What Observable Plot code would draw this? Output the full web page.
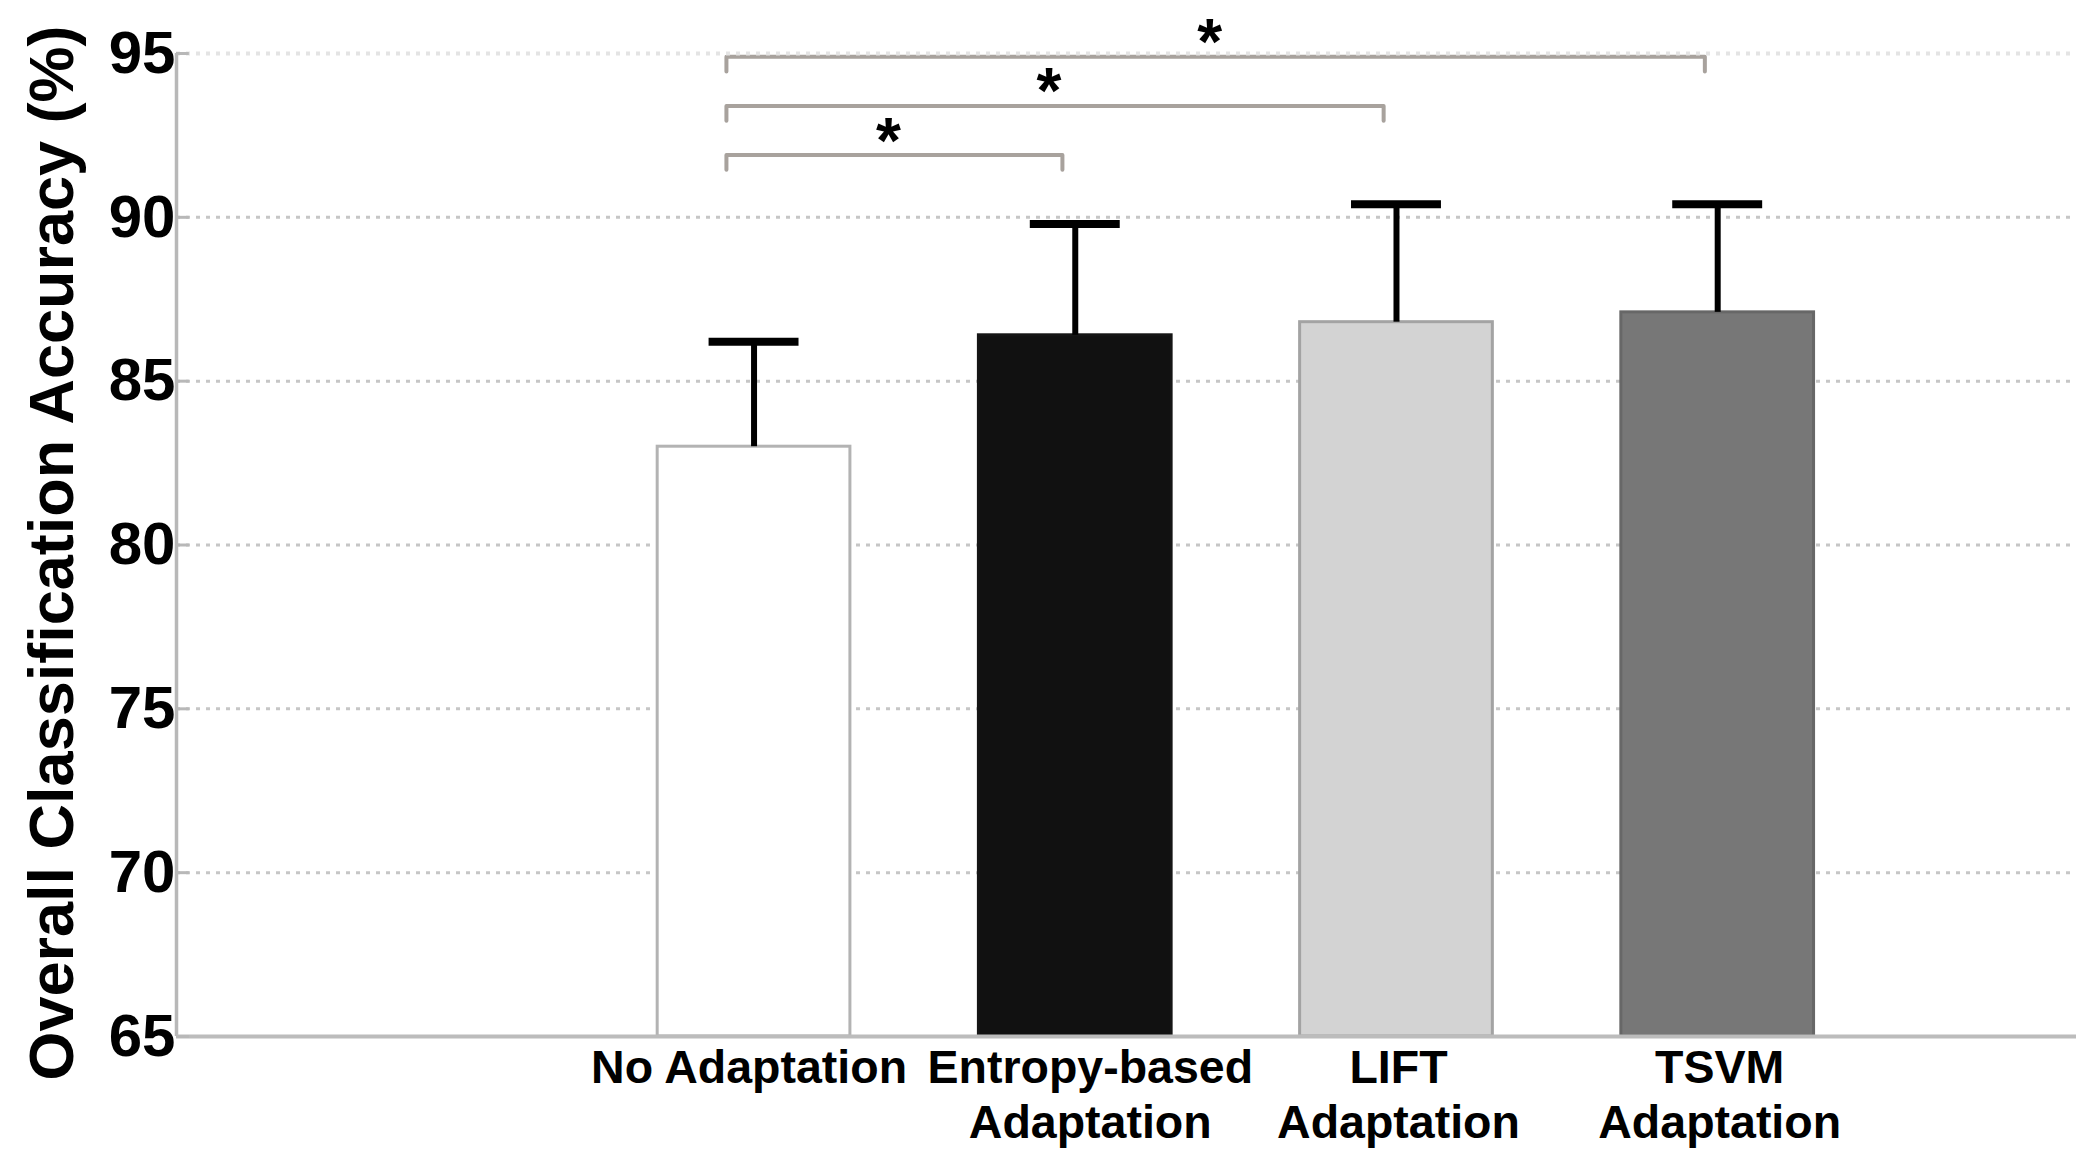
<!DOCTYPE html>
<html>
<head>
<meta charset="utf-8">
<script src="https://cdn.jsdelivr.net/npm/d3@7"></script>
<script src="https://cdn.jsdelivr.net/npm/@observablehq/plot@0.6"></script>
<style>
  html, body { margin: 0; padding: 0; background: #fff; }
</style>
</head>
<body>
<script>
// ---- data ----
const categories = ["No Adaptation", "Entropy-based\nAdaptation", "LIFT\nAdaptation", "TSVM\nAdaptation"];
const accuracy = [83.0, 86.4, 86.8, 87.1];
const stdev = [3.2, 3.4, 3.6, 3.3];
const yTicks = [65, 70, 75, 80, 85, 90, 95];
const sigFrom = [1, 1, 1];
const sigTo = [2, 3, 4];
const sigLevel = [91.9, 93.4, 94.9];
const sigLabel = ["*", "*", "*"];
const yTitle = "Overall Classification Accuracy (%)";

// ---- styles ----
const fills = ["#ffffff", "#111111", "#d3d3d3", "#777777"];
const strokes = ["#b3b3b3", "#151515", "#a3a3a3", "#676767"];
const xDomain = [-0.798, 5.117];
const barHalf = 0.3, capHalf = 0.14, drop = 0.45;

const bars = categories.map((c, i) => ({pos: i + 1, label: c, mean: accuracy[i], sd: stdev[i], fill: fills[i], stroke: strokes[i]}));
const sig = sigFrom.map((f, k) => ({from: f, to: sigTo[k], level: sigLevel[k], label: sigLabel[k]}));
const bracketPts = sig.flatMap((s, k) => {
  const xa = s.from - 0.086, xb = s.to - 0.04;
  return [
    {k, x: xa, y: s.level - drop}, {k, x: xa, y: s.level},
    {k, x: xb, y: s.level}, {k, x: xb, y: s.level - drop}
  ];
});

const labelOpts = {tickFormat: p => categories[p - 1], tickSize: 0, tickPadding: 8, fontSize: 46.5, lineHeight: 1.18, label: null};
const gridOpts = {stroke: "#c6c6c6", strokeOpacity: 1, strokeWidth: 3, strokeDasharray: "4,6"};

const chart = Plot.plot({
  width: 2076,
  height: 1168,
  marginLeft: 176,
  marginRight: 0,
  marginTop: 53,
  marginBottom: 132,
  x: {domain: xDomain},
  y: {domain: [65, 95]},
  style: {fontFamily: "'Liberation Sans', Arial, sans-serif", fontWeight: "bold", color: "black", background: "white", overflow: "visible"},
  marks: [
    Plot.gridY(yTicks, gridOpts),
    Plot.rectY(bars, {x1: d => d.pos - barHalf, x2: d => d.pos + barHalf, y1: 65, y2: "mean", fill: "fill", stroke: "stroke", strokeWidth: 3}),
    Plot.ruleX(bars, {x: "pos", y1: "mean", y2: d => d.mean + d.sd, stroke: "black", strokeWidth: 6}),
    Plot.ruleY(bars, {y: d => d.mean + d.sd, x1: d => d.pos - capHalf, x2: d => d.pos + capHalf, stroke: "black", strokeWidth: 8}),
    Plot.line(bracketPts, {x: "x", y: "y", z: "k", stroke: "#a8a29d", strokeWidth: 4, strokeLinejoin: "round", strokeLinecap: "round"}),
    Plot.gridY([yTicks[yTicks.length - 1]], {...gridOpts, stroke: "#e4e4e4", strokeWidth: 4}),
    Plot.text(sig, {x: d => (d.from - 0.086 + d.to - 0.04) / 2, y: "level", text: "label", fontSize: 64, dx: -6, dy: -13}),
    Plot.ruleX([xDomain[0]], {stroke: "#b8b8b8", strokeWidth: 3.5}),
    Plot.ruleY([65], {stroke: "#bcbcbc", strokeWidth: 4}),
    Plot.ruleY(yTicks, {x1: xDomain[0], x2: xDomain[0] + 0.04, stroke: "#b8b8b8", strokeWidth: 3}),
    Plot.axisY(yTicks, {tickSize: 0, tickPadding: 1, fontSize: 60, label: null}),
    Plot.axisX([1], {...labelOpts, dx: -5}),
    Plot.axisX([2], {...labelOpts, dx: 15}),
    Plot.axisX([3, 4], {...labelOpts, dx: 2}),
    Plot.text([yTitle], {text: d => d, frameAnchor: "left", textAnchor: "middle", rotate: -90, dx: -148, dy: 8, lineAnchor: "top", fontSize: 63})
  ]
});
document.body.appendChild(chart);
</script>
</body>
</html>
